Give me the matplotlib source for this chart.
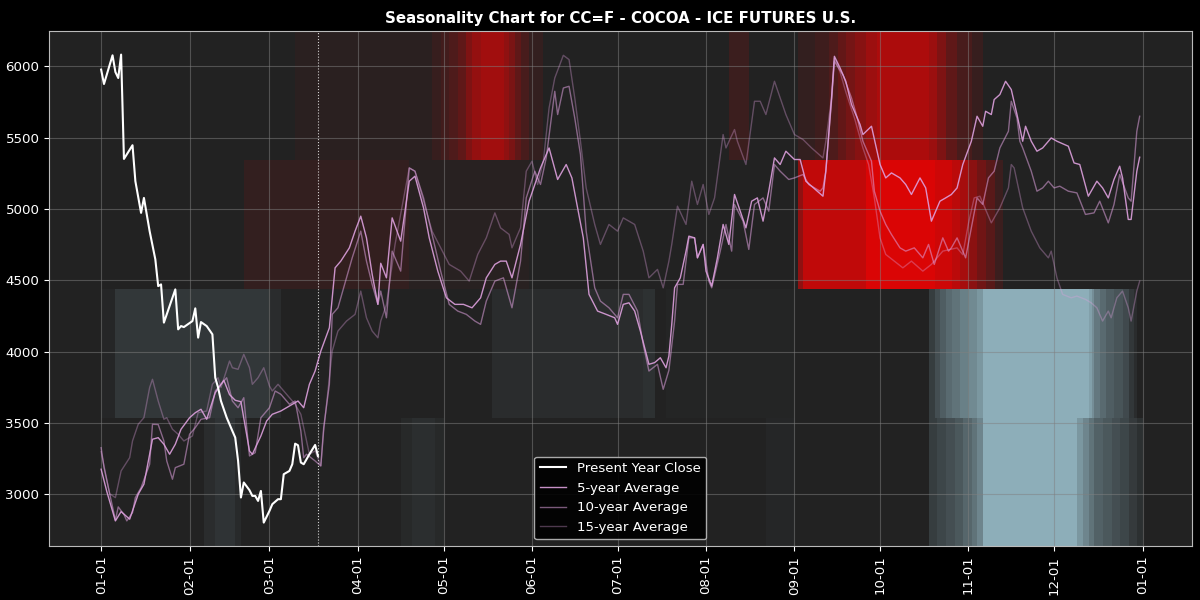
import numpy as np
import matplotlib
matplotlib.use("Agg")
import matplotlib.pyplot as plt
import matplotlib.dates as mdates
from matplotlib.colors import to_rgb

YEAR_START = np.datetime64("2026-01-01")
TODAY = 76  # day of year of last close

# present year close (day of year, price)
close_days = [0, 1, 4, 5, 6, 7, 8, 11, 12, 14, 15, 17, 19, 20, 21, 22, 26, 27, 28, 29,
              32, 33, 34, 35, 37, 39, 40, 41, 42, 44, 46, 47, 48, 49, 50, 52, 53, 54, 55, 56,
              57, 59, 60, 62, 63, 64, 66, 67, 68, 69, 70, 71, 73, 75, 76]
close_vals = [5977, 5876, 6077, 5960, 5918, 6082, 5351, 5447, 5195, 4973, 5078, 4845, 4647, 4460, 4472, 4204, 4437, 4157, 4180, 4173,
              4215, 4304, 4099, 4208, 4180, 4122, 3818, 3749, 3655, 3539, 3445, 3399, 3236, 2979, 3084, 3030, 2990, 2990, 2955, 3025,
              2803, 2885, 2932, 2967, 2967, 3142, 3165, 3212, 3356, 3345, 3224, 3212, 3282, 3347, 3270]

avg5_days = [0, 2, 5, 7, 10, 13, 15, 18, 20, 22, 24, 26, 28, 31, 33, 35, 37, 40, 43, 45,
             47, 49, 52, 53, 56, 58, 60, 63, 67, 69, 71, 73, 75, 77, 80, 82, 84, 87, 89, 91,
             93, 95, 97, 98, 100, 102, 105, 108, 110, 113, 115, 118, 121, 124, 127, 130, 133, 135, 138, 140,
             142, 144, 147, 150, 154, 157, 160, 163, 165, 167, 169, 171, 174, 177, 180, 181, 183, 185, 187, 189,
             192, 194, 196, 198, 199, 200, 201, 203, 205, 206, 208, 209, 211, 212, 214, 216, 218, 220, 222, 224,
             226, 228, 230, 232, 234, 236, 238, 240, 243, 245, 247, 249, 253, 254, 256, 257, 259, 261, 263, 266,
             267, 270, 273, 275, 277, 280, 282, 284, 287, 289, 291, 294, 296, 298, 300, 302, 305, 307, 309, 310,
             312, 313, 315, 317, 319, 321, 323, 324, 326, 328, 330, 333, 335, 339, 341, 343, 346, 349, 351, 353,
             355, 357, 358, 360, 361, 363, 364]
avg5_vals = [3177, 3020, 2815, 2880, 2827, 3002, 3072, 3387, 3398, 3352, 3282, 3352, 3457, 3538, 3573, 3597, 3527, 3713, 3800, 3700,
             3660, 3650, 3305, 3282, 3410, 3515, 3562, 3585, 3632, 3655, 3608, 3772, 3865, 4005, 4168, 4588, 4635, 4728, 4845, 4950,
             4798, 4542, 4332, 4620, 4518, 4938, 4775, 5195, 5230, 5008, 4798, 4565, 4378, 4332, 4332, 4308, 4378, 4518, 4612, 4635,
             4635, 4518, 4752, 5055, 5288, 5428, 5207, 5312, 5218, 5008, 4798, 4402, 4285, 4262, 4238, 4192, 4332, 4343, 4285, 4145,
             3912, 3924, 3958, 3888, 3970, 4192, 4448, 4518, 4705, 4810, 4798, 4658, 4752, 4565, 4460, 4658, 4892, 4752, 5102, 4985,
             4868, 5055, 5078, 4915, 5125, 5358, 5312, 5405, 5347, 5347, 5195, 5160, 5090, 5265, 5778, 6070, 5988, 5895, 5732, 5592,
             5522, 5580, 5312, 5218, 5253, 5218, 5172, 5102, 5218, 5148, 4915, 5055, 5078, 5102, 5148, 5312, 5475, 5650, 5580, 5685,
             5662, 5767, 5802, 5895, 5837, 5662, 5475, 5580, 5475, 5405, 5428, 5498, 5475, 5440, 5323, 5312, 5090, 5195, 5148, 5078,
             5207, 5300, 5218, 4927, 4927, 5265, 5363]

avg10_days = [0, 1, 3, 5, 6, 8, 9, 11, 12, 14, 17, 18, 20, 22, 23, 25, 26, 29, 31, 33,
              35, 38, 40, 42, 44, 46, 48, 50, 52, 54, 56, 59, 61, 63, 66, 68, 70, 71, 72, 75,
              77, 78, 80, 81, 83, 86, 88, 91, 93, 95, 97, 98, 100, 102, 105, 108, 110, 113, 116, 119,
              122, 125, 128, 131, 133, 135, 138, 141, 144, 147, 149, 152, 154, 156, 159, 160, 162, 164, 166, 168,
              170, 173, 175, 178, 181, 183, 185, 188, 190, 192, 195, 197, 199, 201, 202, 204, 206, 208, 209, 211,
              213, 214, 217, 219, 221, 222, 225, 227, 229, 232, 234, 236, 238, 241, 243, 246, 248, 252, 253, 254,
              256, 257, 260, 263, 265, 267, 270, 271, 273, 275, 277, 280, 282, 285, 288, 290, 292, 295, 297, 298,
              300, 303, 305, 307, 309, 311, 313, 315, 318, 319, 321, 322, 323, 326, 328, 330, 332, 334, 336, 339,
              342, 345, 348, 350, 353, 355, 357, 360, 361, 363, 364]
avg10_vals = [3328, 3190, 3005, 2820, 2913, 2860, 2815, 2873, 2978, 3048, 3212, 3492, 3490, 3375, 3235, 3107, 3188, 3212, 3422, 3468,
              3527, 3538, 3725, 3772, 3818, 3655, 3608, 3678, 3270, 3293, 3538, 3608, 3725, 3702, 3632, 3655, 3445, 3258, 3282, 3235,
              3200, 3468, 3772, 4262, 4308, 4518, 4658, 4845, 4635, 4472, 4332, 4425, 4238, 4705, 4565, 5288, 5265, 5078, 4822, 4565,
              4332, 4285, 4262, 4215, 4192, 4355, 4495, 4518, 4308, 4635, 5078, 5265, 5172, 5358, 5825, 5662, 5848, 5860, 5638, 5382,
              4845, 4448, 4355, 4308, 4238, 4402, 4402, 4285, 4052, 3865, 3912, 3737, 3870, 4215, 4472, 4472, 4798, 4798, 4658, 4752,
              4495, 4448, 4705, 4892, 4705, 5032, 4915, 4717, 5032, 5078, 4985, 5312, 5265, 5207, 5218, 5242, 5172, 5125, 5148, 5265,
              5755, 6035, 5940, 5778, 5640, 5475, 5335, 5125, 4985, 4892, 4822, 4728, 4705, 4728, 4658, 4752, 4612, 4798, 4705, 4728,
              4798, 4658, 4868, 5078, 5032, 5218, 5265, 5428, 5545, 5755, 5638, 5475, 5428, 5265, 5125, 5148, 5195, 5148, 5160, 5125,
              5113, 4962, 4973, 5055, 4903, 5032, 5242, 5078, 5055, 5545, 5650]

avg15_days = [0, 3, 5, 7, 10, 11, 13, 15, 17, 18, 20, 22, 23, 25, 27, 29, 32, 34, 37, 39,
              41, 42, 45, 46, 48, 50, 52, 53, 55, 57, 59, 60, 62, 65, 68, 70, 73, 75, 77, 78,
              81, 83, 86, 89, 91, 93, 95, 97, 98, 100, 103, 108, 110, 114, 116, 119, 122, 126, 129, 132,
              135, 138, 140, 143, 144, 147, 149, 151, 153, 155, 157, 159, 162, 164, 166, 168, 170, 173, 175, 178,
              181, 183, 187, 190, 192, 195, 197, 199, 200, 202, 205, 207, 209, 211, 213, 215, 218, 219, 222, 223,
              226, 229, 231, 233, 236, 238, 240, 243, 246, 249, 253, 254, 256, 257, 259, 261, 264, 267, 269, 271,
              273, 275, 278, 281, 284, 288, 291, 295, 300, 302, 304, 306, 308, 312, 315, 318, 319, 320, 323, 326,
              329, 332, 333, 335, 337, 340, 342, 345, 347, 349, 351, 353, 354, 356, 358, 360, 361, 363, 364]
avg15_vals = [3300, 3005, 2978, 3165, 3258, 3375, 3492, 3538, 3749, 3807, 3655, 3527, 3538, 3457, 3422, 3375, 3410, 3573, 3585, 3772,
              3818, 3749, 3935, 3888, 3877, 3982, 3888, 3772, 3818, 3888, 3760, 3725, 3772, 3702, 3632, 3562, 3282, 3305, 3200, 3445,
              4005, 4145, 4215, 4262, 4425, 4238, 4145, 4098, 4215, 4330, 4750, 5288, 5265, 4985, 4845, 4728, 4612, 4565, 4495, 4682,
              4798, 4973, 4868, 4822, 4728, 4868, 5265, 5335, 5172, 5335, 5708, 5918, 6077, 6047, 5778, 5475, 5148, 4892, 4752, 4892,
              4845, 4938, 4892, 4705, 4518, 4577, 4448, 4635, 4752, 5020, 4892, 5195, 5032, 5172, 4962, 5078, 5522, 5428, 5557, 5475,
              5312, 5755, 5755, 5662, 5895, 5778, 5662, 5522, 5487, 5428, 5358, 5475, 5778, 6058, 5960, 5820, 5640, 5428, 5312, 5078,
              4798, 4682, 4635, 4588, 4635, 4565, 4612, 4705, 4728, 4680, 4900, 5078, 5090, 4903, 5008, 5148, 5312, 5288, 5008, 4845,
              4728, 4658, 4705, 4518, 4402, 4378, 4390, 4367, 4343, 4308, 4215, 4285, 4238, 4378, 4425, 4308, 4215, 4425, 4495]

# seasonal strength per price band: (first day, end day, score); >0 bullish, <0 bearish
heat_top = [(68, 116, 0.04), (116, 119, 0.1), (119, 122, 0.15), (122, 125, 0.2), (125, 128, 0.28),
            (128, 130, 0.42), (130, 133, 0.52), (133, 141, 0.58), (141, 143, 0.5), (143, 145, 0.4),
            (145, 147, 0.28), (147, 150, 0.18), (150, 155, 0.08), (220, 227, 0.12),
            (244, 250, 0.08), (250, 255, 0.13), (255, 258, 0.2), (258, 261, 0.3), (261, 264, 0.38),
            (264, 268, 0.46), (268, 272, 0.56), (272, 290, 0.63), (290, 293, 0.55), (293, 296, 0.42),
            (296, 300, 0.28), (300, 305, 0.18), (305, 309, 0.1)]
heat_upper = [(50, 108, 0.08), (108, 150, 0.03), (244, 246, 0.5), (246, 268, 0.72), (268, 292, 0.84),
              (292, 298, 0.78), (298, 301, 0.7), (301, 304, 0.6), (304, 307, 0.48), (307, 310, 0.36),
              (310, 313, 0.25), (313, 316, 0.12)]
heat_lower = [(0, 5, -0.03), (5, 59, -0.12), (59, 63, -0.06), (137, 190, -0.06), (190, 194, -0.09),
              (198, 243, -0.02), (290, 292, -0.15), (292, 294, -0.25), (294, 296, -0.33), (296, 298, -0.4),
              (298, 301, -0.45), (301, 304, -0.52), (304, 307, -0.58), (307, 309, -0.65), (309, 346, -0.78),
              (346, 347, -0.7), (347, 348, -0.6), (348, 350, -0.48), (350, 352, -0.4), (352, 355, -0.33),
              (355, 358, -0.28), (358, 360, -0.22), (360, 362, -0.12), (362, 363, -0.06)]
heat_bottom = [(36, 40, -0.06), (40, 47, -0.1), (47, 49, -0.05), (105, 109, -0.04), (109, 117, -0.07),
               (117, 120, -0.04), (233, 243, -0.03), (290, 293, -0.15), (293, 296, -0.2), (296, 299, -0.25),
               (299, 302, -0.3), (302, 305, -0.38), (305, 307, -0.45), (307, 309, -0.55), (309, 342, -0.78),
               (342, 344, -0.65), (344, 346, -0.55), (346, 348, -0.45), (348, 351, -0.35), (351, 354, -0.3),
               (354, 357, -0.25), (357, 360, -0.2), (360, 363, -0.14), (363, 365, -0.08)]
heat_rows = [heat_bottom, heat_lower, heat_upper, heat_top]


def to_dates(days):
    return YEAR_START + np.array(days).astype("timedelta64[D]")


fig, ax = plt.subplots(figsize=(12, 6), dpi=100)
fig.patch.set_facecolor("black")
ax.set_facecolor("#222222")
fig.subplots_adjust(left=0.041, right=0.993, top=0.948, bottom=0.09)

ax.plot(to_dates(close_days), close_vals, color="white", lw=1.5, label="Present Year Close", zorder=5)
ax.plot(to_dates(avg5_days), avg5_vals, color="plum", alpha=0.9, lw=1, label="5-year Average", zorder=4)
ax.plot(to_dates(avg10_days), avg10_vals, color="plum", alpha=0.55, lw=1, label="10-year Average", zorder=3)
ax.plot(to_dates(avg15_days), avg15_vals, color="plum", alpha=0.35, lw=1, label="15-year Average", zorder=3)

xlim = ax.get_xlim()
ylim = ax.get_ylim()

# heat map behind the lines, one row per quarter of the price range
img = np.zeros((4, 365, 4))
for r, row in enumerate(heat_rows):
    for start, end, score in row:
        img[r, start:end, :3] = to_rgb("red") if score > 0 else to_rgb("lightblue")
        img[r, start:end, 3] = abs(score)
x0 = mdates.date2num(YEAR_START)
ax.imshow(img, extent=[x0, x0 + 365, ylim[0], ylim[1]], origin="lower",
          aspect="auto", interpolation="nearest", zorder=0)
ax.set_xlim(xlim)
ax.set_ylim(ylim)

ax.axvline(to_dates([TODAY])[0], color="white", ls=":", lw=0.8, alpha=0.8, zorder=2)

ax.xaxis.set_major_locator(mdates.MonthLocator())
ax.xaxis.set_major_formatter(mdates.DateFormatter("%m-%d"))
plt.setp(ax.get_xticklabels(), rotation=90)
ax.tick_params(colors="white", labelsize=9.6)
for s in ax.spines.values():
    s.set_color("#bbbbbb")
ax.grid(True, color="gray", alpha=0.5, lw=0.8)

ax.set_title("Seasonality Chart for CC=F - COCOA - ICE FUTURES U.S.", color="white",
             fontweight="bold", fontsize=10.8)
leg = ax.legend(loc="lower center", facecolor="black", edgecolor="#bbbbbb",
                labelcolor="white", framealpha=0.9, fontsize=9.6)

fig.savefig("out.png", dpi=100, facecolor=fig.get_facecolor())
